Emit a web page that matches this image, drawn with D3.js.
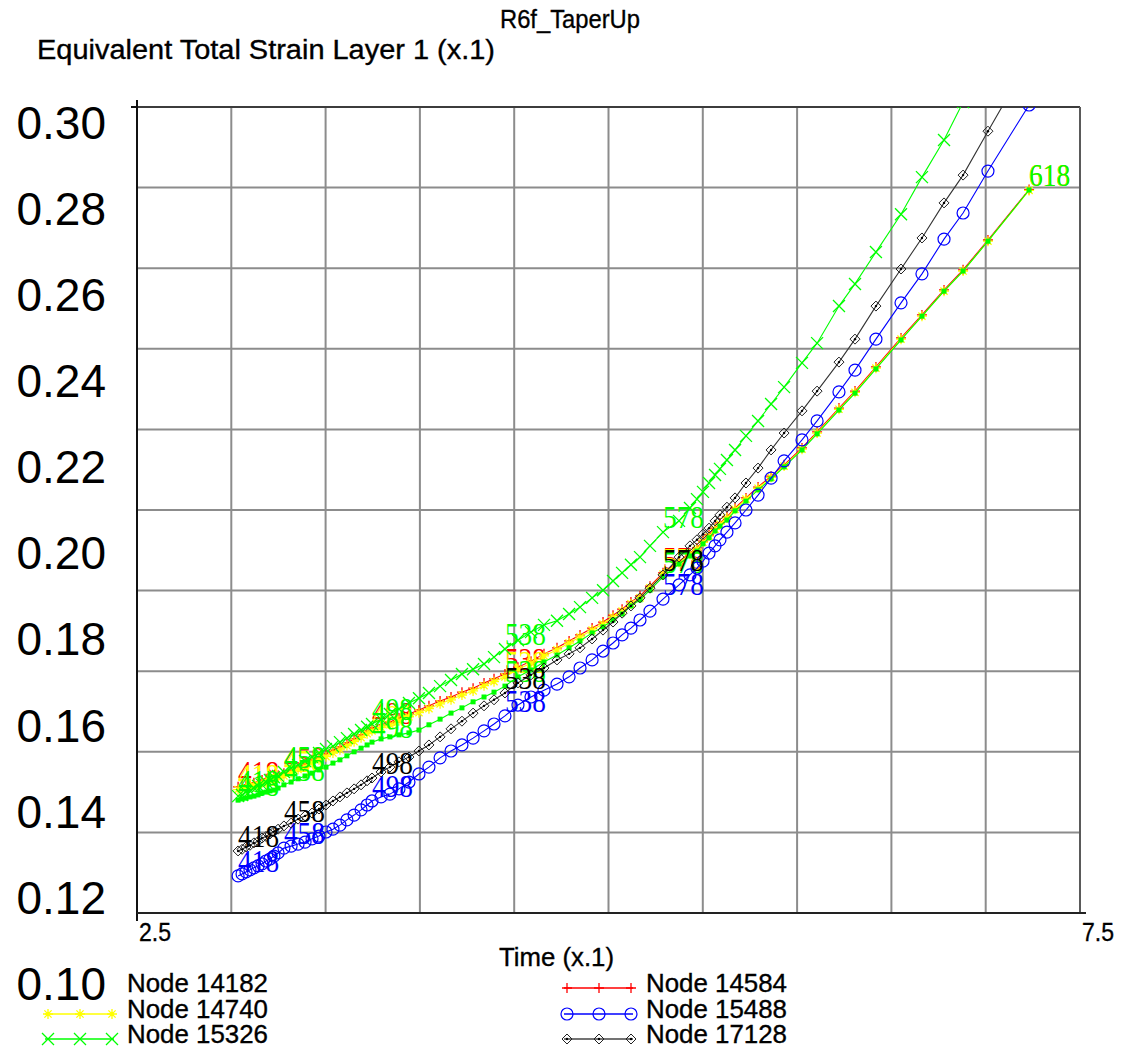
<!DOCTYPE html>
<html>
<head>
<meta charset="utf-8">
<script src="https://cdn.jsdelivr.net/npm/d3@7"></script>
<style>
  body { margin: 0; background: #ffffff; }
  svg { display: block; }
</style>
</head>
<body>
<svg id="chart" width="1123" height="1050"></svg>
<script>
// Time (x.1) of each saved increment, shared by every node
const time = [
  3.036, 3.057, 3.078, 3.099, 3.120, 3.142, 3.163, 3.184, 3.205, 3.226, 3.248, 3.279,
  3.317, 3.354, 3.391, 3.428, 3.465, 3.502, 3.539, 3.576, 3.613, 3.651, 3.688, 3.720, 3.746,
  3.794, 3.841, 3.889, 3.942, 3.995, 4.048, 4.107, 4.165, 4.223, 4.282, 4.340, 4.393, 4.451,
  4.520, 4.589, 4.658, 4.727, 4.791, 4.849, 4.913, 4.971, 5.024, 5.072, 5.119, 5.167, 5.220, 5.289,
  5.374, 5.432, 5.469, 5.501, 5.533, 5.565, 5.591, 5.628, 5.671, 5.729, 5.793, 5.862, 5.931,
  6.026, 6.106, 6.222, 6.307, 6.418, 6.551, 6.662, 6.779, 6.880, 7.012, 7.230
];

// Equivalent total strain, layer 1 (x.1), per node
const node14584 = [
  .1313, .1315, .1318, .1320, .1323, .1325, .1330, .1333, .1335, .1337, .1342, .1347,
  .1355, .1362, .1370, .1380, .1387, .1395, .1404, .1412, .1422, .1432, .1442, .1452, .1459,
  .1467, .1474, .1484, .1494, .1504, .1514, .1526, .1536, .1548, .1558, .1571, .1581, .1593,
  .1610, .1625, .1643, .1658, .1675, .1690, .1707, .1722, .1739, .1754, .1772, .1787, .1811, .1844,
  .1873, .1893, .1906, .1923, .1938, .1955, .1968, .1983, .2005, .2030, .2057, .2084, .2112,
  .2154, .2194, .2253, .2295, .2355, .2427, .2484, .2546, .2596, .2670, .2795
];
const node14740 = [
  .1306, .1309, .1311, .1314, .1316, .1319, .1323, .1326, .1328, .1331, .1335, .1340,
  .1348, .1356, .1363, .1373, .1380, .1388, .1397, .1405, .1415, .1425, .1435, .1445, .1452,
  .1460, .1467, .1477, .1487, .1497, .1507, .1519, .1529, .1541, .1551, .1564, .1574, .1586,
  .1605, .1620, .1638, .1653, .1670, .1685, .1702, .1717, .1734, .1749, .1767, .1782, .1807, .1841,
  .1870, .1890, .1903, .1920, .1935, .1952, .1965, .1980, .2002, .2027, .2054, .2081, .2109,
  .2151, .2191, .2250, .2292, .2352, .2424, .2481, .2543, .2593, .2667, .2793
];
const node14182 = [
  .1280, .1283, .1285, .1288, .1290, .1293, .1298, .1300, .1303, .1305, .1310, .1318,
  .1325, .1333, .1340, .1347, .1355, .1362, .1372, .1380, .1390, .1400, .1409, .1417, .1424,
  .1432, .1437, .1442, .1447, .1454, .1467, .1481, .1496, .1509, .1524, .1536, .1548, .1563,
  .1586, .1603, .1623, .1640, .1658, .1675, .1695, .1710, .1727, .1742, .1762, .1777, .1801, .1834,
  .1866, .1886, .1898, .1916, .1931, .1948, .1960, .1975, .1998, .2022, .2050, .2077, .2107,
  .2149, .2189, .2248, .2290, .2350, .2422, .2481, .2543, .2593, .2667, .2794
];
const node15326 = [
  .1290, .1293, .1300, .1303, .1310, .1315, .1318, .1325, .1330, .1337, .1340, .1350,
  .1360, .1367, .1377, .1387, .1397, .1407, .1414, .1424, .1434, .1444, .1454, .1462, .1469,
  .1481, .1494, .1506, .1521, .1533, .1546, .1563, .1578, .1593, .1605, .1618, .1635, .1655,
  .1677, .1697, .1715, .1725, .1742, .1759, .1782, .1801, .1824, .1844, .1864, .1883, .1911, .1945,
  .1973, .2005, .2027, .2045, .2067, .2087, .2102, .2124, .2149, .2184, .2221, .2263, .2305,
  .2365, .2414, .2506, .2561, .2640, .2734, .2826, .2918, .3012, null, null
];
const node15488 = [
  .1092, .1097, .1102, .1107, .1112, .1117, .1122, .1129, .1134, .1141, .1149, .1161,
  .1166, .1171, .1176, .1184, .1191, .1201, .1208, .1218, .1231, .1243, .1256, .1268, .1278,
  .1288, .1295, .1308, .1325, .1345, .1362, .1385, .1402, .1417, .1434, .1452, .1469, .1489,
  .1516, .1536, .1553, .1568, .1586, .1608, .1628, .1650, .1670, .1690, .1707, .1727, .1749, .1779,
  .1814, .1839, .1856, .1873, .1893, .1911, .1926, .1945, .1968, .2000, .2037, .2079, .2122,
  .2174, .2221, .2293, .2347, .2424, .2514, .2586, .2672, .2737, .2841, .3005
];
const node17128 = [
  .1154, .1158, .1164, .1168, .1174, .1178, .1186, .1190, .1196, .1202, .1208, .1216,
  .1223, .1233, .1241, .1248, .1258, .1268, .1278, .1288, .1298, .1308, .1318, .1328, .1335,
  .1350, .1362, .1375, .1387, .1402, .1417, .1437, .1457, .1476, .1496, .1514, .1529, .1546,
  .1571, .1591, .1608, .1628, .1643, .1658, .1680, .1702, .1722, .1744, .1762, .1782, .1806, .1839,
  .1883, .1911, .1926, .1940, .1955, .1973, .1988, .2007, .2030, .2067, .2104, .2149, .2191,
  .2246, .2295, .2367, .2424, .2506, .2598, .2675, .2762, .2831, .2940, .3117
];

// Increment numbers annotated along each curve, and where they fall in the time list
const stepLabels = [418, 458, 498, 538, 578, 618];
const stepIndex = [0, 11, 24, 37, 51, 75];

const yTickValues = [0.10, 0.12, 0.14, 0.16, 0.18, 0.20, 0.22, 0.24, 0.26, 0.28, 0.30];
const xEndLabels = ["2.5", "7.5"];
const titleText = "Equivalent Total Strain Layer 1 (x.1)";
const subtitleText = "R6f_TaperUp";
const xTitleText = "Time (x.1)";

// Drawing order: later series paint over earlier ones
const series = [
  { name: "Node 14584", values: node14584, color: "#ff0000", marker: "plus",     col: 1, row: 0 },
  { name: "Node 14740", values: node14740, color: "#ffff00", marker: "asterisk", col: 0, row: 1 },
  { name: "Node 14182", values: node14182, color: "#00ff00", marker: "square",   col: 0, row: 0, swatch: false },
  { name: "Node 15326", values: node15326, color: "#00ff00", marker: "cross",    col: 0, row: 2 },
  { name: "Node 15488", values: node15488, color: "#0000ff", marker: "circle",   col: 1, row: 1 },
  { name: "Node 17128", values: node17128, color: "#000000", marker: "diamond",  col: 1, row: 2 }
];

const plot = { left: 137, right: 1080, top: 107, bottom: 913 };
const condensed = "'Liberation Sans Narrow', 'Liberation Sans', Arial, sans-serif";

const svg = d3.select("#chart");

const x = d3.scaleLinear().domain([2.5, 7.5]).range([plot.left, plot.right]);
const y = d3.scaleLinear().domain([0.10, 0.30]).range([plot.bottom, plot.top]);
// Tick labels are spread over a taller band than the grid itself
const yLabelPos = d3.scaleLinear().domain([0.10, 0.30]).range([983.5, 122]);

svg.append("defs").append("clipPath").attr("id", "plot-clip")
  .append("rect")
  .attr("x", plot.left).attr("y", plot.top)
  .attr("width", plot.right - plot.left).attr("height", plot.bottom - plot.top);

// Grid
const grid = svg.append("g");
grid.selectAll("line.v").data(d3.range(3.0, 7.01, 0.5)).join("line")
  .attr("x1", d => x(d)).attr("x2", d => x(d))
  .attr("y1", plot.top).attr("y2", plot.bottom)
  .attr("stroke", "#8c8c8c").attr("stroke-width", 2);
grid.selectAll("line.h").data(y.ticks(10).filter(v => v > 0.101 && v < 0.299)).join("line")
  .attr("x1", plot.left).attr("x2", plot.right)
  .attr("y1", d => y(d)).attr("y2", d => y(d))
  .attr("stroke", "#8c8c8c").attr("stroke-width", 2);

// Frame: upper and right edges
svg.append("line").attr("x1", plot.left).attr("x2", plot.right)
  .attr("y1", plot.top).attr("y2", plot.top).attr("stroke", "#3c3c3c").attr("stroke-width", 2);
svg.append("line").attr("x1", plot.right).attr("x2", plot.right)
  .attr("y1", plot.top).attr("y2", plot.bottom).attr("stroke", "#5a5a5a").attr("stroke-width", 2);

// Axes
svg.append("line").attr("x1", plot.left).attr("x2", plot.left)
  .attr("y1", plot.top - 7).attr("y2", plot.bottom + 8).attr("stroke", "#111").attr("stroke-width", 2);
svg.append("line").attr("x1", plot.left - 6).attr("x2", plot.left)
  .attr("y1", plot.top).attr("y2", plot.top).attr("stroke", "#111").attr("stroke-width", 2);
svg.append("line").attr("x1", plot.left).attr("x2", plot.right + 6)
  .attr("y1", plot.bottom).attr("y2", plot.bottom).attr("stroke", "#222").attr("stroke-width", 2);

// Marker shapes
function markerPath(kind) {
  switch (kind) {
    case "plus": return "M-5,0H5M0,-5V5";
    case "asterisk": return "M-5,0H5M0,-5V5M-3.6,-3.6L3.6,3.6M-3.6,3.6L3.6,-3.6";
    case "cross": return "M-6,-6L6,6M-6,6L6,-6";
    case "diamond": return "M0,-5L5,0L0,5L-5,0Z";
    default: return null;
  }
}
function drawMarker(g, kind, color) {
  if (kind === "circle") {
    g.append("circle").attr("r", 6).attr("fill", "none").attr("stroke", color).attr("stroke-width", 1.2);
  } else if (kind === "square") {
    g.append("rect").attr("x", -2.5).attr("y", -2.5).attr("width", 5).attr("height", 5).attr("fill", color);
  } else if (kind === "diamond") {
    g.append("path").attr("d", markerPath(kind)).attr("fill", "none").attr("stroke", "#222").attr("stroke-width", 1);
    g.append("circle").attr("r", 1.2).attr("fill", "#000");
  } else {
    g.append("path").attr("d", markerPath(kind)).attr("fill", "none").attr("stroke", color).attr("stroke-width", 1.3);
  }
}

// Curves, markers and increment labels
const plotLayer = svg.append("g").attr("clip-path", "url(#plot-clip)");
const line = d3.line()
  .defined(d => d.v != null)
  .x(d => x(d.t)).y(d => y(d.v));

series.forEach(s => {
  const pts = time.map((t, i) => ({ t, v: s.values[i] }));
  const g = plotLayer.append("g");
  g.append("path").datum(pts)
    .attr("d", line)
    .attr("fill", "none")
    .attr("stroke", s.color === "#000000" ? "#333" : s.color)
    .attr("stroke-width", 1.1);
  g.selectAll("g.m").data(pts.filter(d => d.v != null)).join("g")
    .attr("transform", d => `translate(${x(d.t)},${y(d.v)})`)
    .each(function () { drawMarker(d3.select(this), s.marker, s.color); });
  const labelled = stepIndex
    .map((idx, k) => ({ t: time[idx], v: s.values[idx], text: stepLabels[k] }))
    .filter(d => d.v != null && d.v <= 0.30);
  g.selectAll("text").data(labelled).join("text")
    .attr("x", d => x(d.t))
    .attr("y", d => y(d.v) - 4)
    .attr("font-family", "'Liberation Serif', 'Times New Roman', serif")
    .attr("font-size", 31)
    .attr("textLength", 41)
    .attr("lengthAdjust", "spacingAndGlyphs")
    .attr("fill", s.color)
    .text(d => d.text);
});

// Value axis labels
svg.append("g").selectAll("text").data(yTickValues).join("text")
  .attr("x", 106)
  .attr("y", d => yLabelPos(d))
  .attr("dy", "0.36em")
  .attr("text-anchor", "end")
  .attr("font-family", "'Liberation Sans', Arial, sans-serif")
  .attr("font-size", 46)
  .attr("fill", "#000")
  .text(d => d3.format(".2f")(d));

// Small annotation text is drawn slightly heavy
function heavy(sel) {
  return sel.attr("fill", "#000").attr("stroke", "#000").attr("stroke-width", 0.35);
}

// Time axis end labels
heavy(svg.append("g").selectAll("text").data(xEndLabels).join("text")
  .attr("x", d => x(+d) + 2)
  .attr("y", 941)
  .attr("font-family", condensed)
  .attr("font-size", 26)
  .attr("textLength", 32)
  .attr("lengthAdjust", "spacingAndGlyphs")
  .text(d => d));

// Titles
heavy(svg.append("text").attr("x", 37).attr("y", 59)
  .attr("font-family", condensed).attr("font-size", 27)
  .attr("textLength", 458).attr("lengthAdjust", "spacingAndGlyphs")
  .text(titleText));
heavy(svg.append("text").attr("x", 500).attr("y", 28)
  .attr("font-family", condensed).attr("font-size", 26)
  .attr("textLength", 140).attr("lengthAdjust", "spacingAndGlyphs")
  .text(subtitleText));
heavy(svg.append("text").attr("x", 499).attr("y", 966)
  .attr("font-family", condensed).attr("font-size", 26)
  .attr("textLength", 115).attr("lengthAdjust", "spacingAndGlyphs")
  .text(xTitleText));

// Legend: two columns of three rows
const legendCols = [0, 519];
const legendRows = [992, 1018, 1043];
series.forEach(s => {
  const ox = legendCols[s.col];
  const by = legendRows[s.row];
  const g = svg.append("g");
  if (s.swatch !== false) {
    g.append("line").attr("x1", ox + 45).attr("x2", ox + 114)
      .attr("y1", by - 4).attr("y2", by - 4)
      .attr("stroke", s.color === "#000000" ? "#444" : s.color).attr("stroke-width", 1.5);
    [48, 80, 112].forEach(mx => {
      const mg = g.append("g").attr("transform", `translate(${ox + mx},${by - 4})`);
      drawMarker(mg, s.marker, s.color);
    });
  }
  heavy(g.append("text").attr("x", ox + 127).attr("y", by)
    .attr("font-family", condensed).attr("font-size", 25)
    .attr("textLength", 141).attr("lengthAdjust", "spacingAndGlyphs")
    .text(s.name));
});
</script>
</body>
</html>
